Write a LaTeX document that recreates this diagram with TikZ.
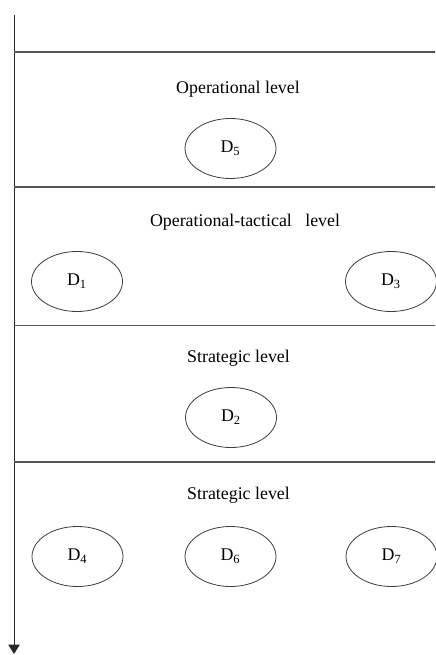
\documentclass[tikz,border=0pt]{standalone}
\usepackage{fontspec}
\setmainfont{Liberation Serif}
\usetikzlibrary{shapes.geometric,arrows.meta}
\tikzset{every picture/.style={line width=0.75pt}}
\tikzset{
  dnode/.style={draw={rgb,255:red,60;green,60;blue,60}, ellipse, line width=0.6pt,
    minimum width=68.25pt, minimum height=45pt, inner sep=0pt, font=\fontsize{13.4}{16}\selectfont},
  levellabel/.style={inner sep=0.75pt, font=\fontsize{13.4}{16}\selectfont},
  sepline/.style={draw={rgb,255:red,85;green,85;blue,85}, line width=0.9pt}
}

\begin{document}
\begin{tikzpicture}[x=0.75pt,y=0.75pt,yscale=-1,xscale=1]
\path[use as bounding box] (0,0) rectangle (435,655);

%Axis
\coordinate (axtop) at (14,15);
\coordinate (axbot) at (14,654);
\draw [color={rgb, 255:red, 40; green, 40; blue, 40 }, -{Triangle[width=8.5pt,length=7pt]}] (axtop) -- (axbot);

%Separators
\draw [sepline] (14,52) -- (435,52);
\draw [sepline] (14,187) -- (435,187);
\draw [sepline] (14,325.5) -- (435,325.5);
\draw [sepline] (14,462) -- (435,462);

% Level labels
\node [levellabel] (oplevel) at (238,89) {Operational level};
\node [levellabel] (optaclevel) at (245,222) {Operational-tactical\ \ \ level};
\node [levellabel] (stlevelA) at (238.5,358) {Strategic level};
\node [levellabel] (stlevelB) at (238.5,495) {Strategic level};

% Decisions
\node [dnode] (d5) at (230.5,148.5) {D\textsubscript{5}};
\node [dnode] (d1) at (77,281.5) {D\textsubscript{1}};
\node [dnode] (d3) at (391,281.5) {D\textsubscript{3}};
\node [dnode] (d2) at (231,417.5) {D\textsubscript{2}};
\node [dnode] (d4) at (77.5,556.5) {D\textsubscript{4}};
\node [dnode] (d6) at (230.5,556.5) {D\textsubscript{6}};
\node [dnode] (d7) at (391.5,556.5) {D\textsubscript{7}};

\end{tikzpicture}
\end{document}
